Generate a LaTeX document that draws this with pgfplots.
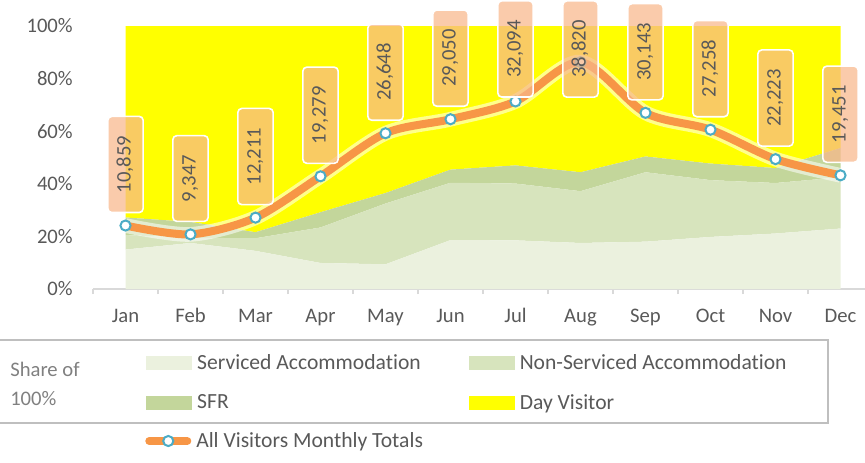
\documentclass[border=0pt]{standalone}
\usepackage{fontspec}
\setmainfont{Carlito}[Ligatures=NoCommon]
\usepackage{pgfplots}
\usepackage{pgfplotstable}
\pgfplotsset{compat=1.18}

\definecolor{servcol}{RGB}{235,241,222}
\definecolor{nonservcol}{RGB}{215,228,189}
\definecolor{sfrcol}{RGB}{195,214,155}
\definecolor{daycol}{RGB}{255,255,0}
\definecolor{linecol}{RGB}{247,150,70}
\definecolor{markcol}{RGB}{75,172,198}
\definecolor{labfill}{RGB}{248,183,138}
\definecolor{txtgrey}{RGB}{89,89,89}
\definecolor{axisgrey}{RGB}{217,217,217}
\definecolor{boxgrey}{RGB}{191,191,191}
\definecolor{sharegrey}{RGB}{128,128,128}

\newcommand\chartfont{\fontsize{15.5}{18}\selectfont}
\newcommand\legfont{\fontsize{16.2}{19}\selectfont}

% shares in percent, one column per stacked layer
\pgfplotstableread{
m serv nonserv sfr day
0  15.0  5.5  6.7 72.8
1  17.5  2.0  6.0 74.5
2  14.5  4.8  2.3 78.4
3   9.9 13.5  5.8 70.8
4   9.4 23.1  4.0 63.5
5  18.6 21.8  5.0 54.6
6  18.5 21.6  6.9 53.0
7  17.5 19.7  7.2 55.6
8  18.0 26.4  6.0 49.6
9  19.8 21.6  6.3 52.3
10 21.1 19.2  5.7 54.0
11 23.0 19.5 11.1 46.4
}\shares

\pgfplotstableread{
m total
0  10859
1  9347
2  12211
3  19279
4  26648
5  29050
6  32094
7  38820
8  30143
9  27258
10 22223
11 19451
}\visitors

\begin{document}
\begin{tikzpicture}
\pgfplotsset{
  chartbase/.style={
    at={(69.75pt,-216.75pt)}, anchor=south west,
    width=585pt, height=197.25pt, scale only axis,
    xmin=-0.5, xmax=11.5,
    /pgf/number format/assume math mode=true,
    /pgf/number format/1000 sep={,},
  },
  labelnode/.style={
    draw=none, mark=none, forget plot,
    nodes near coords,
    every node near coord/.append style={
      rotate=90, anchor=west, font=\chartfont, text=txtgrey,
      fill=labfill, fill opacity=0.72, text opacity=1,
      draw=white, line width=1.2pt, rounded corners=3pt,
      inner xsep=14.5pt, inner ysep=7pt,
      text height=10pt, text depth=2.5pt,
      outer xsep=#1},
  },
}

% stacked shares
\begin{axis}[chartbase,
  ymin=0, ymax=100,
  stack plots=y,
  axis x line*=bottom, axis y line*=left,
  x axis line style={-, draw=axisgrey, line width=1pt},
  y axis line style={draw=none},
  xtick={0,...,11},
  xticklabels={Jan,Feb,Mar,Apr,May,Jun,Jul,Aug,Sep,Oct,Nov,Dec},
  minor xtick={-0.5,0.5,...,11.5},
  major tick length=0pt, minor tick length=3.75pt,
  tick align=outside,
  minor tick style={draw=axisgrey, line width=1pt},
  ytick={0,20,...,100},
  ytick style={draw=none},
  yticklabel={\pgfmathprintnumber{\tick}\%},
  ticklabel style={font=\chartfont, text=txtgrey},
  yticklabel style={anchor=east, inner sep=0pt, xshift=-15pt},
  xticklabel style={anchor=base, inner sep=0pt, yshift=-25pt},
  legend columns=2,
  legend style={at={(0.0679,-0.3574)}, anchor=west,
    draw=none, fill=none, inner sep=0pt,
    font=\legfont, text=txtgrey,
    nodes={inner sep=0pt},
    row sep=17pt,
    /tikz/every odd column/.append style={column sep=3.75pt},
    /tikz/every even column/.append style={column sep=36pt}},
  legend cell align=left,
  legend image code/.code={\fill[#1] (0pt,-5.25pt) rectangle (34.5pt,5.25pt);},
]
\addplot[fill=servcol, draw=none] table[x=m, y=serv] {\shares} \closedcycle;
\addlegendentry{Serviced Accommodation}
\addplot[fill=nonservcol, draw=none] table[x=m, y=nonserv] {\shares} \closedcycle;
\addlegendentry{Non-Serviced Accommodation}
\addplot[fill=sfrcol, draw=none] table[x=m, y=sfr] {\shares} \closedcycle;
\addlegendentry{SFR}
\addplot[fill=daycol, draw=none] table[x=m, y=day] {\shares} \closedcycle;
\addlegendentry{Day Visitor}
\end{axis}

% monthly totals on a hidden second scale
\begin{axis}[chartbase,
  ymin=0, ymax=45000,
  hide axis, clip=false,
  legend style={at={(0.0667,-0.578)}, anchor=west,
    draw=none, fill=none, inner sep=0pt,
    font=\legfont, text=txtgrey,
    nodes={inner sep=0pt},
    /tikz/every odd column/.append style={column sep=3.75pt}},
  legend image code/.code={
    \draw[#1, line cap=round, mark repeat=2, mark phase=2]
      plot coordinates {(3pt,0pt) (17.25pt,0pt) (31.5pt,0pt)};},
]
\addplot[white, opacity=0.55, line width=11pt, smooth, forget plot]
  table[x=m, y=total] {\visitors};
\addplot[linecol, line width=6pt, smooth,
  mark=*, mark size=3.8pt,
  mark options={fill=white, draw=markcol, line width=1.5pt}]
  table[x=m, y=total] {\visitors};
\addlegendentry{All Visitors Monthly Totals}
\addplot[labelnode=9.75pt, restrict x to domain=0:5] table[x=m, y=total] {\visitors};
\addplot[labelnode=9.75pt, restrict x to domain=8:11] table[x=m, y=total] {\visitors};
\addplot[labelnode=3.3pt, restrict x to domain=6:6] table[x=m, y=total] {\visitors};
\addplot[labelnode=-26.25pt, restrict x to domain=7:7] table[x=m, y=total] {\visitors};
\end{axis}

\node[anchor=west, align=left, inner sep=0pt, text=sharegrey,
  font=\fontsize{15.5}{21.75}\selectfont] at (7.5pt,-287.6pt) {Share of\\100\%};
\draw[boxgrey, line width=1.1pt] (-2pt,-255pt) rectangle (621pt,-317.25pt);

\pgfresetboundingbox
\path[use as bounding box] (0pt,0pt) rectangle (648.75pt,-346.5pt);
\end{tikzpicture}
\end{document}
